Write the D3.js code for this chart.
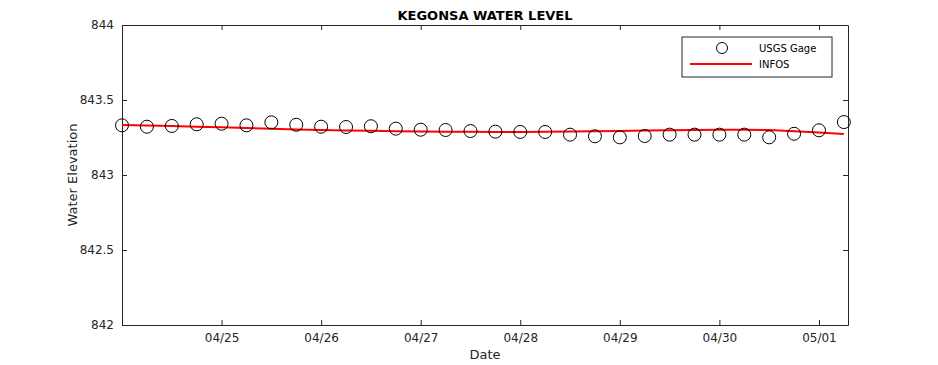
<!DOCTYPE html>
<html>
<head>
<meta charset="utf-8">
<script src="https://cdn.jsdelivr.net/npm/d3@7"></script>
<style>
  html, body { margin: 0; padding: 0; background: #fff; }
  svg { display: block; font-family: "DejaVu Sans", sans-serif; }
</style>
</head>
<body>
<svg id="chart" width="938" height="365"></svg>
<script>
// ---- data ----
const startTime = "2019-04-24T00:00:00Z";   // first observation, then every 6 hours
const stepHours = 6;
const gageValues = [
  843.331, 843.322, 843.327, 843.338, 843.342, 843.331, 843.351, 843.335,
  843.322, 843.320, 843.325, 843.309, 843.302, 843.300, 843.293, 843.289,
  843.287, 843.287, 843.269, 843.258, 843.251, 843.260, 843.269, 843.269,
  843.269, 843.269, 843.251, 843.275, 843.298, 843.353
];
const infosValues = [
  843.333, 843.330, 843.326, 843.322, 843.318, 843.313, 843.308, 843.303,
  843.300, 843.297, 843.295, 843.292, 843.290, 843.289, 843.288, 843.287,
  843.287, 843.288, 843.290, 843.292, 843.294, 843.296, 843.298, 843.300,
  843.301, 843.301, 843.300, 843.292, 843.284, 843.273
];
const xDomain = ["2019-04-24T00:00:00Z", "2019-05-01T07:00:00Z"];
const xTicks = ["2019-04-25T00:00:00Z", "2019-04-26T00:00:00Z", "2019-04-27T00:00:00Z",
                "2019-04-28T00:00:00Z", "2019-04-29T00:00:00Z", "2019-04-30T00:00:00Z",
                "2019-05-01T00:00:00Z"];
const yDomain = [842, 844];
const yTicks = [842, 842.5, 843, 843.5, 844];
const title = "KEGONSA WATER LEVEL";
const xLabel = "Date";
const yLabel = "Water Elevation";
const legendNames = ["USGS Gage", "INFOS"];

// ---- layout ----
const margin = { left: 122, top: 25, right: 90, bottom: 40 };
const W = 938, H = 365;
const iw = W - margin.left - margin.right;
const ih = H - margin.top - margin.bottom;
const axisColor = "#262626";

const t0 = new Date(startTime).getTime();
const timeAt = i => new Date(t0 + i * stepHours * 3600 * 1000);
const gage = gageValues.map((v, i) => ({ t: timeAt(i), v }));
const infos = infosValues.map((v, i) => ({ t: timeAt(i), v }));

const x = d3.scaleUtc().domain(xDomain.map(d => new Date(d))).range([0, iw]);
const y = d3.scaleLinear().domain(yDomain).range([ih, 0]);

const svg = d3.select("#chart");
svg.append("rect").attr("width", W).attr("height", H).attr("fill", "#fff");
const g = svg.append("g").attr("transform", `translate(${margin.left},${margin.top})`);

// plot background
g.append("rect").attr("width", iw).attr("height", ih).attr("fill", "#fff");

const fmt = d3.utcFormat("%m/%d");
const tickDates = xTicks.map(d => new Date(d));

// axes
const xAxis = d3.axisBottom(x).tickValues(tickDates).tickFormat(fmt).tickSizeInner(-5).tickSizeOuter(0).tickPadding(8);
const xAxisTop = d3.axisTop(x).tickValues(tickDates).tickFormat("").tickSizeInner(-5).tickSizeOuter(0);
const yAxis = d3.axisLeft(y).tickValues(yTicks).tickFormat(d3.format("")).tickSizeInner(-5).tickSizeOuter(0).tickPadding(8);
const yAxisRight = d3.axisRight(y).tickValues(yTicks).tickFormat("").tickSizeInner(-5).tickSizeOuter(0);

function styleAxis(sel) {
  sel.select(".domain").attr("stroke", axisColor).attr("stroke-width", 1);
  sel.selectAll(".tick line").attr("stroke", axisColor);
  sel.selectAll(".tick text").attr("fill", axisColor).style("font-size", "12px")
     .style("font-family", "'DejaVu Sans', sans-serif");
}

g.append("g").attr("transform", `translate(0,${ih})`).call(xAxis).call(styleAxis);
g.append("g").call(xAxisTop).call(styleAxis);
g.append("g").call(yAxis).call(styleAxis);
g.append("g").attr("transform", `translate(${iw},0)`).call(yAxisRight).call(styleAxis);

// INFOS line
const line = d3.line().x(d => x(d.t)).y(d => y(d.v));
g.append("path").datum(infos)
  .attr("d", line).attr("fill", "none").attr("stroke", "#f00").attr("stroke-width", 2);

// USGS Gage circles
g.selectAll("circle.gage").data(gage).enter().append("circle")
  .attr("class", "gage")
  .attr("cx", d => x(d.t)).attr("cy", d => y(d.v)).attr("r", 6.5)
  .attr("fill", "none").attr("stroke", "#000").attr("stroke-width", 1);

// title
svg.append("text").attr("x", margin.left + iw / 2).attr("y", 20)
  .attr("text-anchor", "middle").attr("font-weight", "bold").attr("font-size", 13)
  .attr("fill", "#000").text(title);

// axis labels
svg.append("text").attr("x", margin.left + iw / 2).attr("y", 359)
  .attr("text-anchor", "middle").attr("font-size", 13).attr("fill", axisColor).text(xLabel);
svg.append("text").attr("transform", `translate(77,${margin.top + ih / 2}) rotate(-90)`)
  .attr("text-anchor", "middle").attr("font-size", 13).attr("fill", axisColor).text(yLabel);

// legend
const lg = svg.append("g").attr("transform", "translate(682,37)");
lg.append("rect").attr("width", 150).attr("height", 40).attr("fill", "#fff")
  .attr("stroke", axisColor).attr("stroke-width", 1);
lg.append("circle").attr("cx", 40).attr("cy", 11).attr("r", 5.5)
  .attr("fill", "none").attr("stroke", "#000");
lg.append("text").attr("x", 77).attr("y", 11).attr("dy", "0.35em")
  .attr("font-size", 10).attr("fill", "#000").text(legendNames[0]);
lg.append("line").attr("x1", 8).attr("x2", 70).attr("y1", 27).attr("y2", 27)
  .attr("stroke", "#f00").attr("stroke-width", 2);
lg.append("text").attr("x", 77).attr("y", 27).attr("dy", "0.35em")
  .attr("font-size", 10).attr("fill", "#000").text(legendNames[1]);
</script>
</body>
</html>
